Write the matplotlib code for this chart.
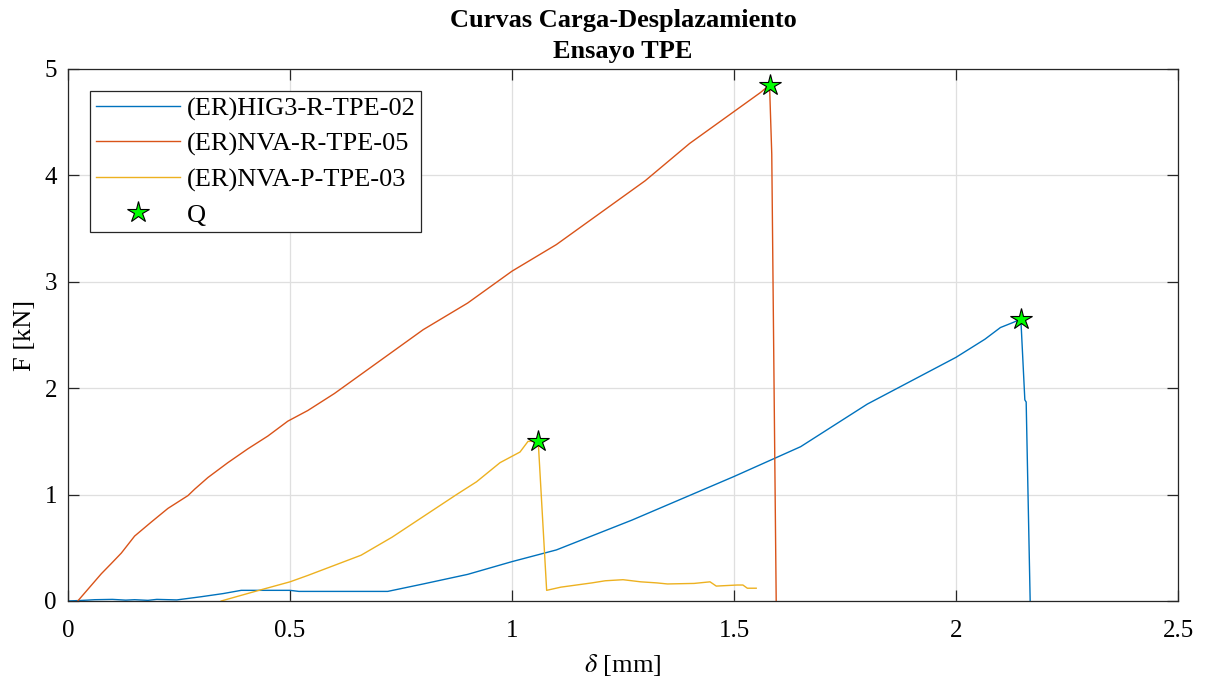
"""Curvas carga-desplazamiento, ensayo TPE."""
import matplotlib
matplotlib.use("Agg")
import matplotlib.pyplot as plt

# (ER)HIG3-R-TPE-02
x_hig3 = [0.0, 0.03, 0.06, 0.1, 0.13, 0.15, 0.18, 0.2, 0.245, 0.3, 0.35, 0.39, 0.5, 0.52,
          0.72, 0.8, 0.9, 1.0, 1.1, 1.27, 1.5, 1.65, 1.8, 2.0, 2.065, 2.1, 2.13, 2.146,
          2.155, 2.158, 2.167]
y_hig3 = [0.0, 0.005, 0.012, 0.015, 0.008, 0.012, 0.006, 0.015, 0.01, 0.04, 0.07, 0.1,
          0.1, 0.09, 0.09, 0.16, 0.25, 0.37, 0.48, 0.76, 1.17, 1.45, 1.85, 2.29, 2.46,
          2.57, 2.62, 2.65, 1.89, 1.87, 0.0]

# (ER)NVA-R-TPE-05
x_nva_r = [0.022, 0.075, 0.097, 0.12, 0.15, 0.187, 0.225, 0.27, 0.285, 0.315, 0.36, 0.405,
           0.45, 0.495, 0.54, 0.6, 0.7, 0.8, 0.9, 1.0, 1.1, 1.2, 1.3, 1.4, 1.5, 1.56, 1.58,
           1.585, 1.595]
y_nva_r = [0.0, 0.256, 0.35, 0.45, 0.61, 0.74, 0.87, 0.99, 1.05, 1.16, 1.3, 1.43,
           1.55, 1.69, 1.79, 1.95, 2.25, 2.55, 2.8, 3.1, 3.35, 3.65, 3.95, 4.3, 4.6, 4.78,
           4.85, 4.2, 0.0]

# (ER)NVA-P-TPE-03
x_nva_p = [0.345, 0.43, 0.5, 0.54, 0.66, 0.73, 0.875, 0.92, 0.973, 1.018, 1.036, 1.059,
           1.078, 1.11, 1.18, 1.21, 1.25, 1.29, 1.326, 1.35, 1.41, 1.446, 1.46, 1.507,
           1.52, 1.53, 1.55]
y_nva_p = [0.0, 0.1, 0.18, 0.24, 0.43, 0.6, 1.0, 1.12, 1.3, 1.4, 1.5, 1.5,
           0.1, 0.13, 0.17, 0.19, 0.2, 0.18, 0.17, 0.16, 0.165, 0.18, 0.14, 0.15,
           0.15, 0.12, 0.12]

# Puntos Q
q_x = [2.146, 1.58, 1.059]
q_y = [2.65, 4.85, 1.5]

plt.rcParams["font.family"] = ["Liberation Serif", "DejaVu Serif"]
plt.rcParams["mathtext.fontset"] = "stix"

fig = plt.figure(figsize=(12.06, 6.81), dpi=100)
ax = fig.add_axes([0.0564, 0.1175, 0.9204, 0.7812])

ax.plot(x_hig3, y_hig3, color="#0072BD", lw=1.0, label="(ER)HIG3-R-TPE-02")
ax.plot(x_nva_r, y_nva_r, color="#D95319", lw=1.0, label="(ER)NVA-R-TPE-05")
ax.plot(x_nva_p, y_nva_p, color="#EDB120", lw=1.0, label="(ER)NVA-P-TPE-03")
ax.plot(q_x, q_y, ls="none", marker="*", ms=16, mfc="#00FF00", mec="black", mew=0.8,
        label="Q")

ax.set_xlim(0, 2.5)
ax.set_ylim(0, 5)
ax.set_xticks([0, 0.5, 1, 1.5, 2, 2.5])
ax.set_xticklabels(["0", "0.5", "1", "1.5", "2", "2.5"])
ax.set_yticks([0, 1, 2, 3, 4, 5])
ax.grid(True, color="#dfdfdf", lw=0.9)
ax.set_axisbelow(True)
for s in ax.spines.values():
    s.set_color("#262626")
    s.set_linewidth(0.9)
ax.tick_params(direction="in", top=True, right=True, length=8, width=0.9,
               colors="#262626", labelsize=18, labelcolor="black")
ax.tick_params(axis="x", pad=14)
ax.tick_params(axis="y", pad=8)

ax.set_xlabel(r"$\delta$ [mm]", fontsize=19, labelpad=7)
ax.set_ylabel("F [kN]", fontsize=19, labelpad=6)
ax.set_title("Curvas Carga-Desplazamiento\nEnsayo TPE", fontsize=19, fontweight="bold",
             linespacing=1.42, pad=8)

leg = ax.legend(loc="upper left", fontsize=19, frameon=True, fancybox=False,
                edgecolor="#262626", framealpha=1, borderaxespad=0.85,
                handlelength=3.2, handletextpad=0.25, labelspacing=0.44, borderpad=0.2)
leg.get_frame().set_linewidth(0.9)

fig.savefig("out.png", dpi=100)
plt.close(fig)
